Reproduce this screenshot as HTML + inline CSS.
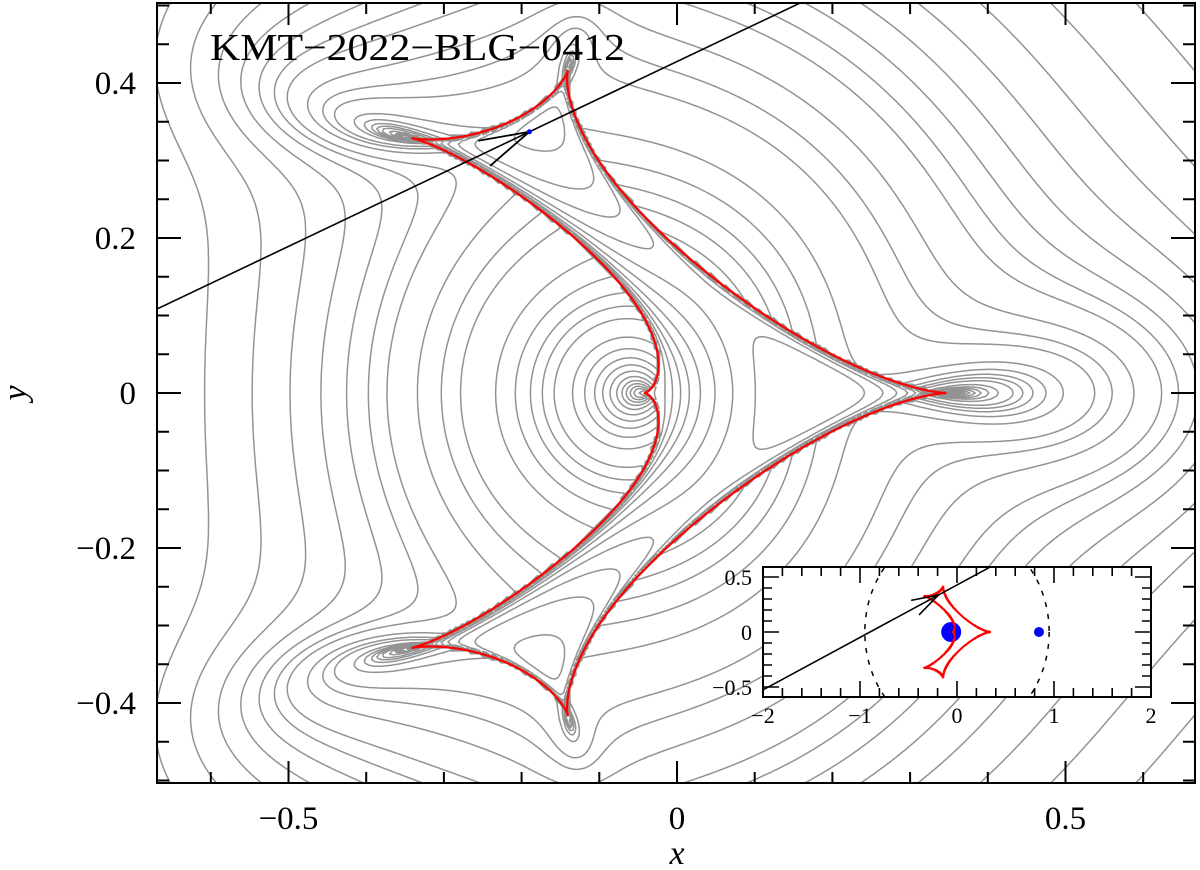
<!DOCTYPE html>
<html><head><meta charset="utf-8">
<style>
html,body{margin:0;padding:0;background:#fff;}
svg{display:block;font-family:"Liberation Serif",serif;}
</style></head>
<body>
<svg id="chart" width="1200" height="870" viewBox="0 0 1200 870">
  <defs>
    <clipPath id="plotClip"><rect x="157" y="3" width="1038" height="780"/></clipPath>
    <clipPath id="insetClip"><rect x="763" y="567" width="388" height="130"/></clipPath>
  </defs>
  <rect x="0" y="0" width="1200" height="870" fill="#fff"/>
  <g id="contours" clip-path="url(#plotClip)"></g>
  <g id="caustic" clip-path="url(#plotClip)"></g>
  <g id="traj" clip-path="url(#plotClip)"></g>
  <text x="210" y="60" font-size="38" textLength="415" lengthAdjust="spacingAndGlyphs" fill="#000">KMT−2022−BLG−0412</text>
  <g id="inset"></g>
  <g id="axes"></g>
  <text x="677" y="864" font-size="34" font-style="italic" text-anchor="middle">x</text>
  <text x="0" y="0" font-size="34" font-style="italic" text-anchor="middle" transform="translate(26,393) rotate(-90)">y</text>
</svg>
<script>
// ---- data ----
const lensPositions = [-0.06, 0.845];     // lens x positions (Einstein units)
const lensMasses = [0.93, 0.07];          // normalized masses
const contourLevels = [1.08,1.16,1.24,1.32,1.4,1.5,1.6,1.7,1.8,1.9,2.0,2.1,2.2,2.4,2.6,2.8,3.3,3.7,4.1,4.5,5.0,6.1,7.2,8.5,10,12,14.7,18,22,28,38,77];
const trajectoryAlphaDeg = [25.5];
const trajectoryU0 = [0.386];
const arrowTip = [-0.19];
const xTicksMajor = [-0.5, 0, 0.5];
const xTickLabels = ["−0.5", "0", "0.5"];
const yTicksMajor = [-0.4, -0.2, 0, 0.2, 0.4];
const yTickLabels = ["−0.4", "−0.2", "0", "0.2", "0.4"];
const insetXTicks = [-2, -1, 0, 1, 2];
const insetXLabels = ["−2", "−1", "0", "1", "2"];
const insetYTicks = [-0.5, 0, 0.5];
const insetYLabels = ["−0.5", "0", "0.5"];
const einsteinRadius = [0.95];

const NS = "http://www.w3.org/2000/svg";
function mk(tag, attrs, parent){const e=document.createElementNS(NS,tag);for(const k in attrs)e.setAttribute(k,attrs[k]);if(parent)parent.appendChild(e);return e;}

const X = x => 677 + 777*x;
const Y = y => 393 - 775*y;
const IX = x => 957 + 97*x;
const IY = y => 632 - 110*y;

const z1 = lensPositions[0], z2 = lensPositions[1];
const m1 = lensMasses[0]/(lensMasses[0]+lensMasses[1]), m2 = lensMasses[1]/(lensMasses[0]+lensMasses[1]);

function padd(a,b){const n=Math.max(a.length,b.length),r=[];for(let i=0;i<n;i++){const x=a[i]||[0,0],y=b[i]||[0,0];r.push([x[0]+y[0],x[1]+y[1]]);}return r;}
function pmul(a,b){const r=[];for(let i=0;i<a.length+b.length-1;i++)r.push([0,0]);for(let i=0;i<a.length;i++)for(let j=0;j<b.length;j++){r[i+j][0]+=a[i][0]*b[j][0]-a[i][1]*b[j][1];r[i+j][1]+=a[i][0]*b[j][1]+a[i][1]*b[j][0];}return r;}
function pscale(a,c){return a.map(v=>[v[0]*c[0]-v[1]*c[1],v[0]*c[1]+v[1]*c[0]]);}

function dk(p, rr, ri, maxIt){
  const n=p.length-1; const lr=p[n][0], li=p[n][1]; const ld=lr*lr+li*li;
  const cr=[],ci=[];
  for(let k=0;k<=n;k++){cr.push((p[k][0]*lr+p[k][1]*li)/ld);ci.push((p[k][1]*lr-p[k][0]*li)/ld);}
  for(let it=0;it<maxIt;it++){
    let md=0;
    for(let i=0;i<n;i++){
      let vr=1,vi=0; const zr=rr[i],zi=ri[i];
      for(let k=n-1;k>=0;k--){const t=vr*zr-vi*zi+cr[k];vi=vr*zi+vi*zr+ci[k];vr=t;}
      let dr=1,di=0;
      for(let j=0;j<n;j++){if(j===i)continue;const ar=zr-rr[j],ai=zi-ri[j];const t=dr*ar-di*ai;di=dr*ai+di*ar;dr=t;}
      const dd=dr*dr+di*di||1e-30;
      const qr=(vr*dr+vi*di)/dd, qi=(vi*dr-vr*di)/dd;
      rr[i]-=qr; ri[i]-=qi;
      const m=Math.abs(qr)+Math.abs(qi); if(m>md)md=m;
    }
    if(md<1e-11)break;
  }
}
function freshRoots(n,rr,ri){for(let k=0;k<n;k++){const a=2*Math.PI*k/n+0.4;rr[k]=1.1*Math.cos(a);ri[k]=1.1*Math.sin(a);}}

const Dp=[[z1*z2,0],[-(z1+z2),0],[1,0]];
const L1=[[-z2,0],[1,0]], L2=[[-z1,0],[1,0]];
const rr=[0,0,0,0,0], ri=[0,0,0,0,0];
freshRoots(5,rr,ri);
function magnification(x,y,depth){
  const N=padd(pscale(Dp,[x,-y]),padd(pscale(L1,[m1,0]),pscale(L2,[m2,0])));
  const A1=padd(N,pscale(Dp,[-z1,0])), A2=padd(N,pscale(Dp,[-z2,0]));
  const P=padd(pmul(pmul([[x,y],[-1,0]],A1),A2),padd(pscale(pmul(Dp,A2),[m1,0]),pscale(pmul(Dp,A1),[m2,0])));
  dk(P,rr,ri,80);
  let A=0;
  for(let k=0;k<5;k++){
    const a=rr[k],b=ri[k];
    if(!isFinite(a)||!isFinite(b)){freshRoots(5,rr,ri);return depth?1:magnification(x,y,1);}
    const d1=(a-z1)*(a-z1)+b*b, d2=(a-z2)*(a-z2)+b*b;
    const sx=a-m1*(a-z1)/d1-m2*(a-z2)/d2, sy=b-m1*b/d1-m2*b/d2;
    if(Math.abs(sx-x)+Math.abs(sy-y)<1e-5){
      const u1r=a-z1,u2r=a-z2;
      const f1r=(u1r*u1r-b*b)/(d1*d1), f1i=(-2*u1r*b)/(d1*d1);
      const f2r=(u2r*u2r-b*b)/(d2*d2), f2i=(-2*u2r*b)/(d2*d2);
      const fr=m1*f1r+m2*f2r, fi=m1*f1i+m2*f2i;
      const det=1-(fr*fr+fi*fi);
      A+=1/Math.max(Math.abs(det),1e-6);
    }
  }
  return A;
}

const step=3, px0=150, px1=1202, py0=0, py1=790;
const nx=Math.floor((px1-px0)/step)+1, ny=Math.floor((py1-py0)/step)+1;
const V=new Float64Array(nx*ny);
for(let j=0;j<ny;j++){
  const rev=j%2===1;
  for(let t=0;t<nx;t++){
    const i=rev?nx-1-t:t;
    const px=px0+i*step, py=py0+j*step;
    const x=(px-677)/777, y=(393-py)/775;
    const A=magnification(x,y,0);
    V[j*nx+i]=Math.log10(Math.max(A,1.0001));
  }
}
const cg=document.getElementById('contours');
contourLevels.forEach((lv,li)=>{
  const L=Math.log10(lv); let d="";
  for(let j=0;j<ny-1;j++)for(let i=0;i<nx-1;i++){
    const a=V[j*nx+i],b=V[j*nx+i+1],c=V[(j+1)*nx+i+1],e=V[(j+1)*nx+i];
    const x0=px0+i*step,y0=py0+j*step;
    const pts=[];
    if((a>=L)!==(b>=L)){const t=(L-a)/(b-a);pts.push([x0+t*step,y0]);}
    if((b>=L)!==(c>=L)){const t=(L-b)/(c-b);pts.push([x0+step,y0+t*step]);}
    if((c>=L)!==(e>=L)){const t=(L-c)/(e-c);pts.push([x0+step-t*step,y0+step]);}
    if((e>=L)!==(a>=L)){const t=(L-e)/(a-e);pts.push([x0,y0+step-t*step]);}
    for(let k=0;k+1<pts.length;k+=2)d+="M"+pts[k][0].toFixed(1)+" "+pts[k][1].toFixed(1)+"L"+pts[k+1][0].toFixed(1)+" "+pts[k+1][1].toFixed(1);
  }
  const p=mk('path',{d:d,fill:'none',stroke:'#939393','stroke-width':1.5,'stroke-linecap':'round'},cg);
  
  
});

const causticBranches=[[],[],[],[]];
{
  const qr=[0,0,0,0], qi=[0,0,0,0]; freshRoots(4,qr,qi);
  const S1=pmul(L2,L2), S2=pmul(L1,L1);
  const prodSq=pmul(S1,S2);
  const NS_=2400;
  for(let k=0;k<=NS_;k++){
    const ph=2*Math.PI*k/NS_;
    const P=padd(pscale(prodSq,[Math.cos(ph),Math.sin(ph)]),padd(pscale(S2,[-m1,0]),pscale(S1,[-m2,0])));
    dk(P,qr,qi,100);
    for(let r=0;r<4;r++){
      const a=qr[r],b=qi[r];
      const d1=(a-z1)*(a-z1)+b*b, d2=(a-z2)*(a-z2)+b*b;
      const sx=a-m1*(a-z1)/d1-m2*(a-z2)/d2, sy=b-m1*b/d1-m2*b/d2;
      causticBranches[r].push([sx,sy]);
    }
  }
}
const kg=document.getElementById('caustic');
causticBranches.forEach((br,bi)=>{
  let d=""; br.forEach((p,i)=>{d+=(i?"L":"M")+X(p[0]).toFixed(1)+" "+Y(p[1]).toFixed(1);});
  const e=mk('path',{d:d,fill:'none',stroke:'#ff0000','stroke-width':2.2,'stroke-linejoin':'round'},kg);
  
  
});

const al=trajectoryAlphaDeg[0]*Math.PI/180, u0=trajectoryU0[0];
const tdx=Math.cos(al), tdy=Math.sin(al);
const bx=-u0*Math.sin(al), by=u0*Math.cos(al);
const tg=document.getElementById('traj');
const tl=mk('line',{x1:X(bx-2*tdx),y1:Y(by-2*tdy),x2:X(bx+2*tdx),y2:Y(by+2*tdy),stroke:'#000','stroke-width':1.6},tg);


{
  const tx=arrowTip[0], tt=(tx-bx)/tdx, ty=by+tt*tdy;
  const Tx=X(tx),Ty=Y(ty);
  const ang=Math.atan2(-(tdy*775),tdx*777);
  const len=52;
  let d="";
  [0.27,-0.27].forEach(o=>{d+="M"+Tx+" "+Ty+"L"+(Tx-len*Math.cos(ang+o)).toFixed(1)+" "+(Ty-len*Math.sin(ang+o)).toFixed(1);});
  const ar=mk('path',{d:d,stroke:'#000','stroke-width':1.8,fill:'none'},tg);
  
  
  const sd=mk('circle',{cx:Tx,cy:Ty,r:2.5,fill:'#0000ff'},tg);
  
  
}

const ax=document.getElementById('axes');
const fr=mk('rect',{x:157,y:3,width:1038,height:780,fill:'none',stroke:'#000','stroke-width':2},ax);


let td="";
for(let k=-6;k<=6;k++){const v=k/10,x=X(v);const maj=(k%5===0);const l=maj?22:11;td+=`M${x} 783L${x} ${783-l}M${x} 3L${x} ${3+l}`;}
for(let k=-10;k<=10;k++){const v=k*0.05,y=Y(v);if(y<3||y>783)continue;const maj=(k%4===0);const l=maj?24:12;td+=`M157 ${y}L${157+l} ${y}M1195 ${y}L${1195-l} ${y}`;}
const tk=mk('path',{d:td,stroke:'#000','stroke-width':2,fill:'none'},ax);


xTicksMajor.forEach((v,i)=>{
  const t=mk('text',{x:X(v),y:829,'font-size':33,'text-anchor':'middle'},ax); t.textContent=xTickLabels[i];
  
  
});
yTicksMajor.forEach((v,i)=>{
  const t=mk('text',{x:136,y:Y(v)+11,'font-size':33,'text-anchor':'end'},ax); t.textContent=yTickLabels[i];
  
  
});

const ig=document.getElementById('inset');
const ib=mk('rect',{x:763,y:567,width:388,height:130,fill:'#fff',stroke:'none'},ig);


const ic=mk('g',{'clip-path':'url(#insetClip)'},ig);


const er=mk('ellipse',{cx:IX(0),cy:IY(0),rx:97*einsteinRadius[0],ry:110*einsteinRadius[0],fill:'none',stroke:'#000','stroke-width':1.5,'stroke-dasharray':'5 7'},ic);


const d1=mk('circle',{cx:IX(z1),cy:IY(0),r:10,fill:'#0000ff'},ic);


const d2=mk('circle',{cx:IX(z2),cy:IY(0),r:5,fill:'#0000ff'},ic);


causticBranches.forEach((br,bi)=>{
  let d=""; br.forEach((p,i)=>{d+=(i?"L":"M")+IX(p[0]).toFixed(1)+" "+IY(p[1]).toFixed(1);});
  const e=mk('path',{d:d,fill:'none',stroke:'#ff0000','stroke-width':2},ic);
  
  
});
const il=mk('line',{x1:IX(bx-4*tdx),y1:IY(by-4*tdy),x2:IX(bx+4*tdx),y2:IY(by+4*tdy),stroke:'#000','stroke-width':1.6},ic);


{
  const tx=arrowTip[0], tt=(tx-bx)/tdx, ty=by+tt*tdy;
  const Tx=IX(tx),Ty=IY(ty); const ang=Math.atan2(-tdy*110,tdx*97); const len=28;
  let d="";
  [0.3,-0.3].forEach(o=>{d+="M"+Tx+" "+Ty+"L"+(Tx-len*Math.cos(ang+o)).toFixed(1)+" "+(Ty-len*Math.sin(ang+o)).toFixed(1);});
  const ar=mk('path',{d:d,stroke:'#000','stroke-width':1.6,fill:'none'},ic);
  
  
}
const ifr=mk('rect',{x:763,y:567,width:388,height:130,fill:'none',stroke:'#000','stroke-width':2},ig);


let itd="";
for(let k=-10;k<=10;k++){const x=IX(k/5);const l=(k%5===0)?16:9;itd+=`M${x} 697L${x} ${697-l}M${x} 567L${x} ${567+l}`;}
for(let k=-5;k<=5;k++){const y=IY(k/10);const l=(k%5===0)?16:9;itd+=`M763 ${y}L${763+l} ${y}M1151 ${y}L${1151-l} ${y}`;}
const itk=mk('path',{d:itd,stroke:'#000','stroke-width':1.6,fill:'none'},ig);


insetXTicks.forEach((v,i)=>{
  const t=mk('text',{x:IX(v),y:723,'font-size':22,'text-anchor':'middle'},ig); t.textContent=insetXLabels[i];
  
  
});
insetYTicks.forEach((v,i)=>{
  const t=mk('text',{x:752,y:IY(v)+8,'font-size':22,'text-anchor':'end'},ig); t.textContent=insetYLabels[i];
  
  
});
</script>
</body></html>
